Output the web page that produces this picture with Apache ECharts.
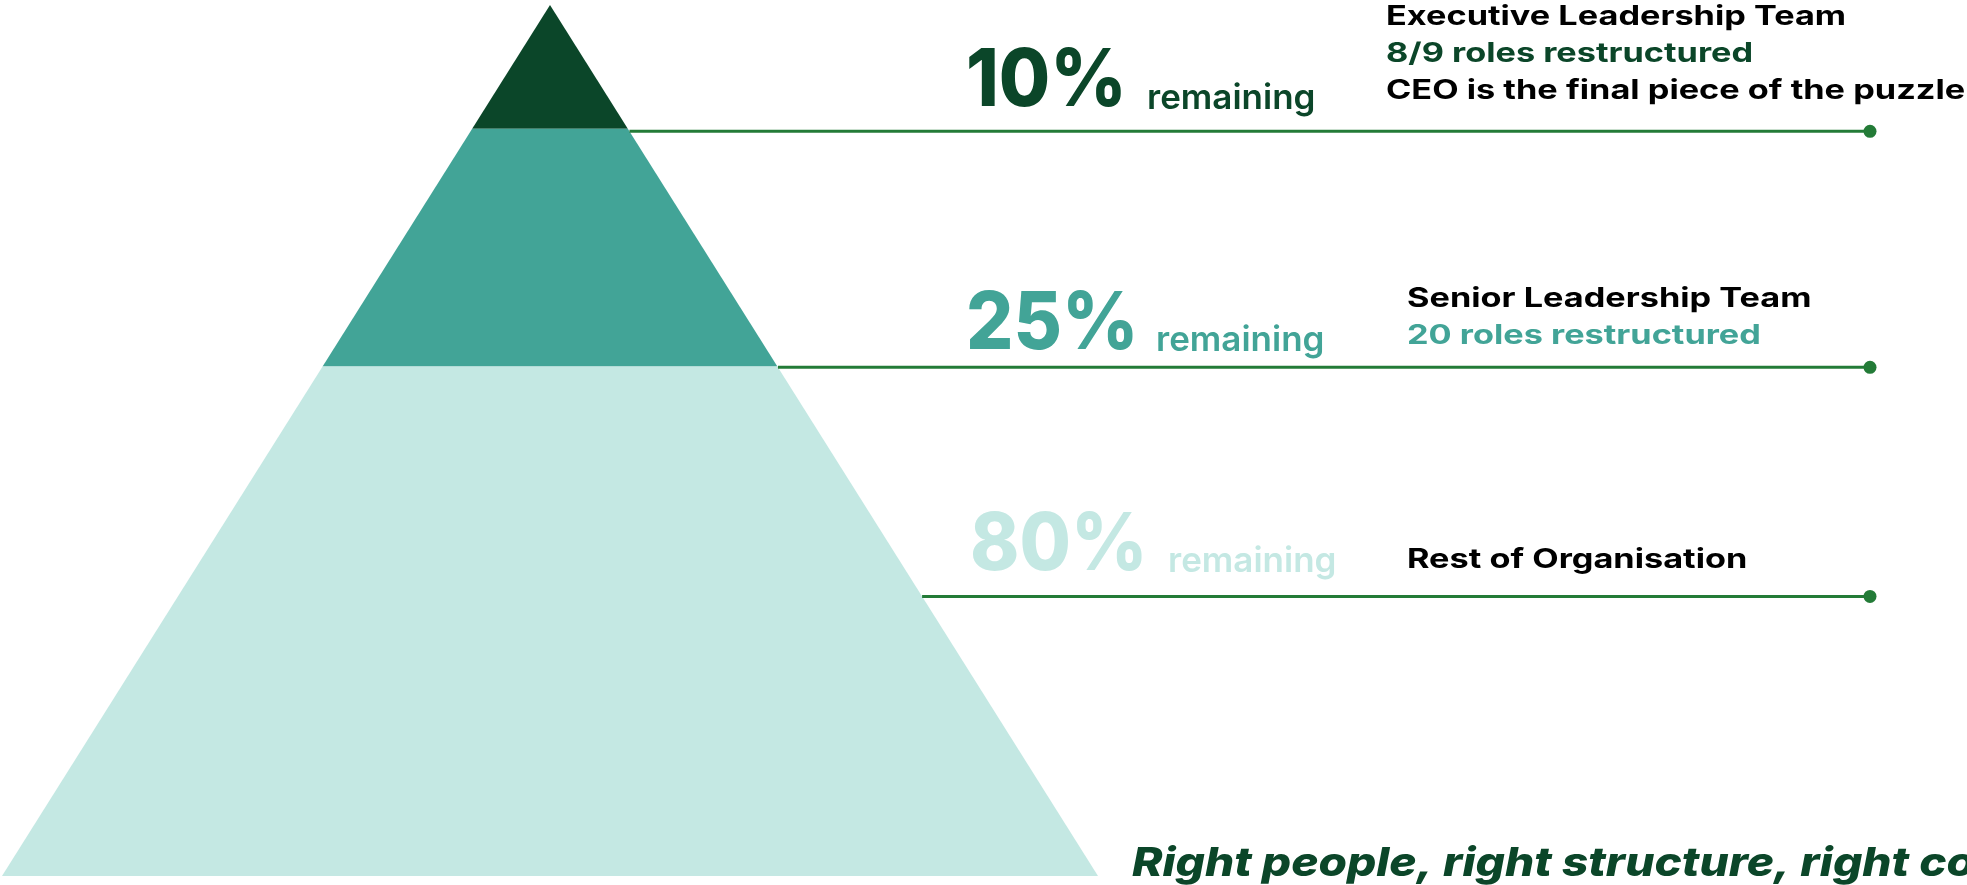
<!DOCTYPE html>
<html>
<head>
<meta charset="utf-8">
<script src="https://cdn.jsdelivr.net/npm/echarts@6/dist/echarts.min.js"></script>
<style>
html,body{margin:0;padding:0;background:#ffffff;}
#chart{width:1967px;height:885px;}
</style>
</head>
<body>
<div id="chart"></div>
<script>
// ---- data ----
const tiers = ['Executive Leadership Team', 'Senior Leadership Team', 'Rest of Organisation'];
const tierTop = [100, 85.8, 58.5];      // share of pyramid height at top of tier
const tierBottom = [85.8, 58.5, 0];     // share of pyramid height at bottom of tier
const remainingPct = [10, 25, 80];
const remainingWord = 'remaining';
const leaderLevel = [85.5, 58.4, 32.1]; // height of each leader line
const tierDetail = [
  ['8/9 roles restructured', 'CEO is the final piece of the puzzle'],
  ['20 roles restructured'],
  []
];
const tagline = 'Right people, right structure, right cost';

// ---- style / layout ----
const tierColors = ['#0b4629', '#42a497', '#c4e8e3'];
const leaderColor = '#237b37';
const FONT = 'Inter, "Open Sans", sans-serif';
const leaderEndX = 1870;
const pctX = [966, 966, 970];
const wordX = [1147, 1156, 1168];
const titleX = [1386, 1407, 1407];
const pctBase = [110.5, 353.5, 575];
const wordBase = [111, 353.5, 574];
const titleBase = [26.7, 308.3, 570];
const lineStep = 37.2;
const PCT_SIZE = 80, WORD_SIZE = 35, TITLE_SIZE = 27, TAG_SIZE = 40;
const PCT_SX = 0.93, TITLE_SX = 1.27, TAG_SX = 1.15;
const mid = (base, size) => base - 0.363 * size;

const chart = echarts.init(document.getElementById('chart'), null, {renderer: 'canvas'});
const halfWidth = h => 1 - h / 100;

const graphics = [];
function txt(text, x, base, size, weight, color, sx, italic) {
  graphics.push({
    type: 'text', x: x, y: mid(base, size), scaleX: sx || 1,
    style: {text: text, fill: color, font: `${italic ? 'italic ' : ''}${weight} ${size}px ${FONT}`, verticalAlign: 'middle', textAlign: 'left'}
  });
}
tiers.forEach((name, i) => {
  txt(remainingPct[i] + '%', pctX[i], pctBase[i], PCT_SIZE, 800, tierColors[i], PCT_SX);
  txt(remainingWord, wordX[i], wordBase[i], WORD_SIZE, 600, tierColors[i], 1);
  txt(name, titleX[i], titleBase[i], TITLE_SIZE, 700, '#000000', TITLE_SX);
  tierDetail[i].forEach((line, j) => {
    txt(line, titleX[i], titleBase[i] + lineStep * (j + 1), TITLE_SIZE, 700, j === 0 ? tierColors[i] : '#000000', TITLE_SX);
  });
});
txt(tagline, 1132, 878.5, TAG_SIZE, 800, '#0b4629', TAG_SX, true);

const option = {
  animation: false,
  backgroundColor: '#ffffff',
  grid: {left: 2, top: 5, width: 1096, height: 871},
  xAxis: {type: 'value', min: -1, max: 1, show: false},
  yAxis: {type: 'value', min: 0, max: 100, show: false},
  series: [
    {
      type: 'custom', name: 'tiers', clip: false,
      data: tiers.map((n, i) => [tierTop[i], tierBottom[i]]),
      renderItem: function (params, api) {
        const top = api.value(0), bot = api.value(1);
        const pts = [
          api.coord([-halfWidth(bot), bot]), api.coord([halfWidth(bot), bot]),
          api.coord([halfWidth(top), top]), api.coord([-halfWidth(top), top])
        ];
        return {type: 'polygon', shape: {points: pts}, style: {fill: tierColors[params.dataIndex]}};
      }
    },
    {
      type: 'custom', name: 'leaders', clip: false,
      data: leaderLevel.map(l => [l]),
      renderItem: function (params, api) {
        const l = api.value(0);
        const start = api.coord([halfWidth(l), l]);
        const y = start[1];
        return {
          type: 'group',
          children: [
            {type: 'line', shape: {x1: start[0], y1: y, x2: leaderEndX, y2: y}, style: {stroke: leaderColor, lineWidth: 3}},
            {type: 'circle', shape: {cx: leaderEndX, cy: y, r: 6.5}, style: {fill: leaderColor}}
          ]
        };
      }
    }
  ],
  graphic: graphics
};
chart.setOption(option);
</script>
</body>
</html>
